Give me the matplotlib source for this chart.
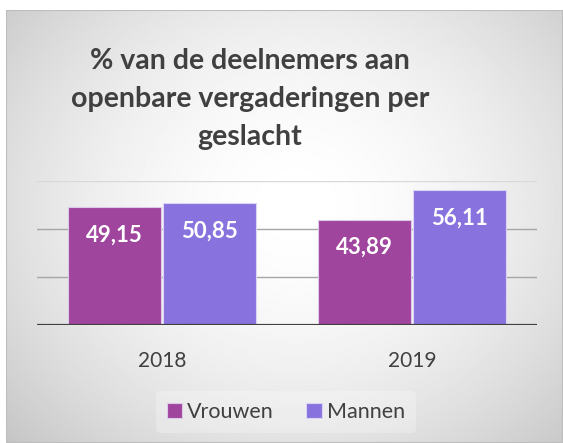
import numpy as np
import matplotlib
matplotlib.use("Agg")
import matplotlib.pyplot as plt
from matplotlib.patches import Rectangle

years = ["2018", "2019"]
vrouwen = [49.15, 43.89]
mannen = [50.85, 56.11]
series_names = ["Vrouwen", "Mannen"]
title = "% van de deelnemers aan\nopenbare vergaderingen per\ngeslacht"

plt.rcParams["font.family"] = ["Lato", "DejaVu Sans"]

W, H = 563, 443
fig = plt.figure(figsize=(W / 100, H / 100), dpi=100)
fig.patch.set_facecolor("white")

# radial gradient background panel
bg = fig.add_axes([6 / W, 0, (W - 6) / W, (H - 10) / H])
yy, xx = np.mgrid[0:1:300j, 0:1:400j]
r = np.sqrt(((xx - 0.52) / 0.75) ** 2 + ((yy - 0.55) / 0.85) ** 2)
grad = 1.0 - 0.25 * np.clip(r, 0, 1.2) ** 1.8
bg.imshow(grad, cmap="gray", vmin=0, vmax=1, aspect="auto",
          extent=[0, 1, 0, 1], origin="lower", interpolation="bilinear")
bg.set_xlim(0, 1)
bg.set_ylim(0, 1)
bg.axis("off")
bg.add_patch(Rectangle((0, 0), 1, 1, fill=False, edgecolor="#bdbdbd",
                       linewidth=1.5, transform=bg.transAxes))

ax = fig.add_axes([37 / W, (H - 325) / H, 500 / W, 144 / H])
ax.patch.set_alpha(0)
x = np.arange(len(years))
bw = 0.372
c_v, c_m = "#a0459d", "#8873de"
b1 = ax.bar(x - bw / 2 - 0.004, vrouwen, bw, color=c_v, edgecolor="#dccbe8",
            linewidth=0.8, label=series_names[0], zorder=3)
b2 = ax.bar(x + bw / 2 + 0.004, mannen, bw, color=c_m, edgecolor="#dcd4f4",
            linewidth=0.8, label=series_names[1], zorder=3)

for bars, vals in ((b1, vrouwen), (b2, mannen)):
    for rect, v in zip(bars, vals):
        ax.annotate(f"{v:.2f}".replace(".", ","),
                    (rect.get_x() + rect.get_width() / 2, v),
                    xytext=(0, -20), textcoords="offset points",
                    ha="center", va="center", color="white",
                    fontsize=16, fontweight="bold", zorder=4)

for val, col in ((20, "#a6a6a6"), (40, "#a6a6a6"), (60, "#d9d9d9")):
    ax.axhline(val, color=col, linewidth=1.0, zorder=1)
ax.axhline(0, color="#404040", linewidth=2.3, zorder=5)

ax.set_xlim(-0.5, 1.5)
ax.set_ylim(0, 60)
ax.set_yticks([])
ax.set_xticks(x)
ax.set_xticklabels(years, fontsize=15, color="#404040")
ax.tick_params(axis="x", length=0, pad=19)
for s in ax.spines.values():
    s.set_visible(False)

fig.text(250 / W, 1 - 99 / H, title, ha="center", va="center",
         multialignment="center", fontsize=20.5, fontweight="bold",
         color="#404040", linespacing=1.55)

leg = fig.legend(handles=[b1, b2], labels=series_names, loc="center",
                 bbox_to_anchor=(286 / W, 1 - 412 / H), ncol=2, frameon=True,
                 fontsize=15.5, handlelength=0.7, handleheight=0.7,
                 handletextpad=0.25, columnspacing=1.5, borderpad=0.5)
leg.get_frame().set_facecolor("white")
leg.get_frame().set_alpha(0.25)
leg.get_frame().set_edgecolor("none")
for t in leg.get_texts():
    t.set_color("#404040")

fig.savefig("out.png", dpi=100)
